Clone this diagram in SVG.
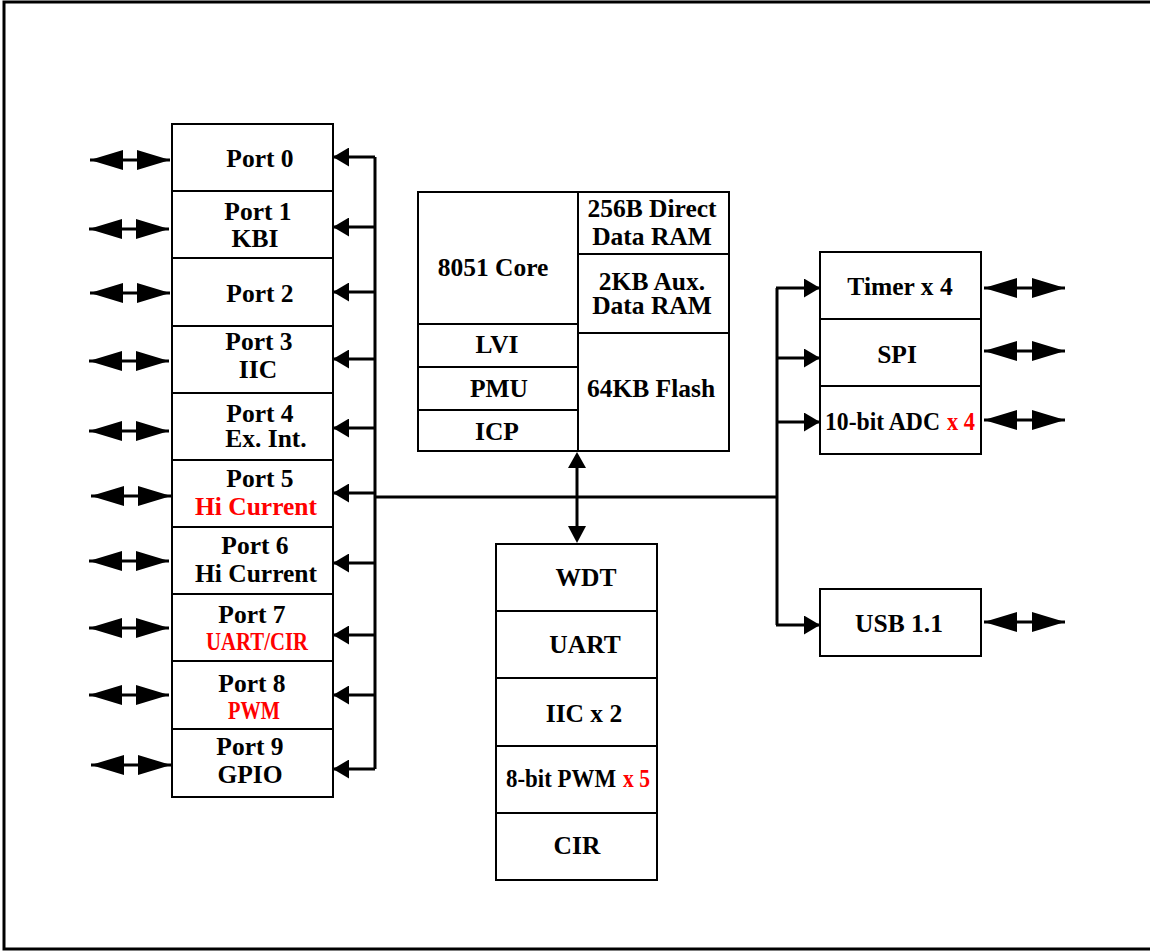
<svg xmlns="http://www.w3.org/2000/svg" width="1150" height="951" viewBox="0 0 1150 951">
<style>
.box{fill:#fff;stroke:#000;stroke-width:2}
.t{font-family:"Liberation Serif","Times New Roman",serif;font-weight:bold;font-size:25.5px;fill:#000;text-anchor:middle}
.s{text-anchor:start}
.r{fill:#f00}
.c{fill:none;stroke:#000;stroke-width:3}
.bus{marker-end:url(#bh)}
.dbl{marker-start:url(#dh);marker-end:url(#dh)}
</style>
<defs>
<marker id="bh" markerUnits="userSpaceOnUse" markerWidth="16" markerHeight="19" refX="15" refY="9.5" orient="auto"><path d="M0,0 L16,9.5 L0,19 z" fill="#000"/></marker>
<marker id="dh" markerUnits="userSpaceOnUse" markerWidth="34" markerHeight="20" refX="33" refY="10" orient="auto-start-reverse"><path d="M0,0 L33,10 L0,20 z" fill="#000"/></marker>
</defs>
<rect x="4" y="2" width="1160" height="947" fill="#fff" stroke="#000" stroke-width="3"/>

<g id="connectors">
<polyline class="c" points="375,157 375,769"/>
<line class="c bus" x1="375" y1="157" x2="334" y2="157"/>
<line class="c bus" x1="375" y1="227" x2="334" y2="227"/>
<line class="c bus" x1="375" y1="292" x2="334" y2="292"/>
<line class="c bus" x1="375" y1="359" x2="334" y2="359"/>
<line class="c bus" x1="375" y1="428" x2="334" y2="428"/>
<line class="c bus" x1="375" y1="493" x2="334" y2="493"/>
<line class="c bus" x1="375" y1="563" x2="334" y2="563"/>
<line class="c bus" x1="375" y1="635" x2="334" y2="635"/>
<line class="c bus" x1="375" y1="695" x2="334" y2="695"/>
<line class="c bus" x1="375" y1="769" x2="334" y2="769"/>
<line class="c dbl" x1="90" y1="160" x2="170" y2="160"/>
<line class="c dbl" x1="89" y1="229" x2="169" y2="229"/>
<line class="c dbl" x1="90" y1="293" x2="170" y2="293"/>
<line class="c dbl" x1="89" y1="361" x2="169" y2="361"/>
<line class="c dbl" x1="89" y1="431" x2="169" y2="431"/>
<line class="c dbl" x1="91" y1="496" x2="171" y2="496"/>
<line class="c dbl" x1="89" y1="561" x2="169" y2="561"/>
<line class="c dbl" x1="89" y1="628" x2="169" y2="628"/>
<line class="c dbl" x1="89" y1="695" x2="169" y2="695"/>
<line class="c dbl" x1="91" y1="765" x2="171" y2="765"/>
<polyline class="c" points="375,497 777,497"/>
<polyline class="c" points="777,288 777,625"/>
<line class="c bus" x1="776" y1="288" x2="819" y2="288"/>
<line class="c bus" x1="776" y1="358" x2="819" y2="358"/>
<line class="c bus" x1="776" y1="422" x2="819" y2="422"/>
<line class="c bus" x1="776" y1="625" x2="819" y2="625"/>
<line class="c" x1="577" y1="465" x2="577" y2="528"/>
<path d="M577,452 L586,468 L568,468 z" fill="#000"/>
<path d="M577,543 L586,526 L568,526 z" fill="#000"/>
<line class="c dbl" x1="984" y1="288" x2="1065" y2="288"/>
<line class="c dbl" x1="984" y1="351" x2="1065" y2="351"/>
<line class="c dbl" x1="984" y1="420" x2="1065" y2="420"/>
<line class="c dbl" x1="984" y1="622" x2="1065" y2="622"/>
</g>

<g id="port0"><rect class="box" x="172" y="124" width="161" height="67"/><text class="t" x="260" y="167">Port 0</text></g>
<g id="port1"><rect class="box" x="172" y="191" width="161" height="67"/><text class="t" x="258" y="220">Port 1</text><text class="t" x="255" y="247">KBI</text></g>
<g id="port2"><rect class="box" x="172" y="258" width="161" height="68"/><text class="t" x="260" y="302">Port 2</text></g>
<g id="port3"><rect class="box" x="172" y="326" width="161" height="67"/><text class="t" x="259" y="350">Port 3</text><text class="t" x="258" y="378">IIC</text></g>
<g id="port4"><rect class="box" x="172" y="393" width="161" height="67"/><text class="t" x="260" y="422">Port 4</text><text class="t" x="266" y="447">Ex. Int.</text></g>
<g id="port5"><rect class="box" x="172" y="460" width="161" height="67"/><text class="t" x="260" y="487">Port 5</text><text class="t r" x="256" y="515">Hi Current</text></g>
<g id="port6"><rect class="box" x="172" y="527" width="161" height="67"/><text class="t" x="255" y="554">Port 6</text><text class="t" x="256" y="582">Hi Current</text></g>
<g id="port7"><rect class="box" x="172" y="594" width="161" height="67"/><text class="t" x="252" y="623">Port 7</text><text class="t r" x="257" y="650" textLength="102" lengthAdjust="spacingAndGlyphs">UART/CIR</text></g>
<g id="port8"><rect class="box" x="172" y="661" width="161" height="68"/><text class="t" x="252" y="692">Port 8</text><text class="t r" x="254" y="719" textLength="52" lengthAdjust="spacingAndGlyphs">PWM</text></g>
<g id="port9"><rect class="box" x="172" y="729" width="161" height="68"/><text class="t" x="250" y="755">Port 9</text><text class="t" x="250" y="783">GPIO</text></g>

<g id="core">
<rect class="box" x="418" y="192" width="160" height="132"/><text class="t" x="493" y="276">8051 Core</text>
</g>
<g id="lvi"><rect class="box" x="418" y="324" width="160" height="43"/><text class="t" x="497" y="353">LVI</text></g>
<g id="pmu"><rect class="box" x="418" y="367" width="160" height="43"/><text class="t" x="499" y="397">PMU</text></g>
<g id="icp"><rect class="box" x="418" y="410" width="160" height="41"/><text class="t" x="497" y="440">ICP</text></g>
<g id="dram"><rect class="box" x="578" y="192" width="151" height="62"/><text class="t" x="652" y="217">256B Direct</text><text class="t" x="652" y="245">Data RAM</text></g>
<g id="aram"><rect class="box" x="578" y="254" width="151" height="79"/><text class="t" x="652" y="290">2KB Aux.</text><text class="t" x="652" y="314">Data RAM</text></g>
<g id="flash"><rect class="box" x="578" y="333" width="151" height="118"/><text class="t" x="651" y="397">64KB Flash</text></g>

<g id="timer"><rect class="box" x="820" y="252" width="161" height="67"/><text class="t" x="900" y="295">Timer x 4</text></g>
<g id="spi"><rect class="box" x="820" y="319" width="161" height="67"/><text class="t" x="897" y="363">SPI</text></g>
<g id="adc"><rect class="box" x="820" y="386" width="161" height="68"/><text class="t s" x="825" y="430" textLength="115" lengthAdjust="spacingAndGlyphs">10-bit ADC</text><text class="t s r" x="947" y="430" textLength="28" lengthAdjust="spacingAndGlyphs">x 4</text></g>
<g id="usb"><rect class="box" x="820" y="589" width="161" height="67"/><text class="t" x="899" y="632">USB 1.1</text></g>

<g id="wdt"><rect class="box" x="496" y="544" width="161" height="67"/><text class="t" x="586" y="586">WDT</text></g>
<g id="uart"><rect class="box" x="496" y="611" width="161" height="67"/><text class="t" x="585" y="653">UART</text></g>
<g id="iic"><rect class="box" x="496" y="678" width="161" height="68"/><text class="t" x="584" y="722">IIC x 2</text></g>
<g id="pwm"><rect class="box" x="496" y="746" width="161" height="67"/><text class="t s" x="506" y="787" textLength="110" lengthAdjust="spacingAndGlyphs">8-bit PWM</text><text class="t s r" x="623" y="787" textLength="27" lengthAdjust="spacingAndGlyphs">x 5</text></g>
<g id="cir"><rect class="box" x="496" y="813" width="161" height="67"/><text class="t" x="577" y="854">CIR</text></g>
</svg>
